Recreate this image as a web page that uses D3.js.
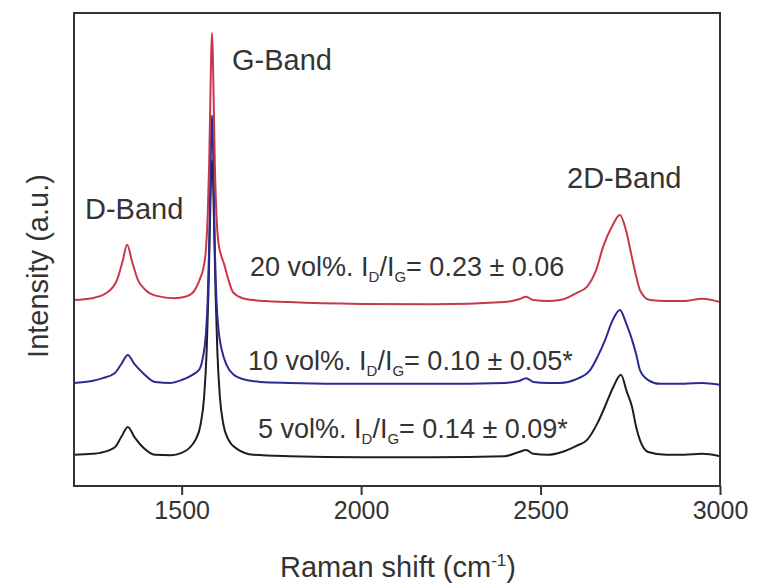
<!DOCTYPE html>
<html>
<head>
<meta charset="utf-8">
<script src="https://cdn.jsdelivr.net/npm/d3@7"></script>
<style>
  body { margin: 0; background: #fff; }
  text { font-family: "Liberation Sans", Arial, sans-serif; fill: #333; }
</style>
</head>
<body>
<svg id="chart"></svg>
<script>
// Raman spectra: [shift (cm-1), intensity (a.u.)]
const spec5 = [
  [1200, 6.6], [1250, 6.8], [1272, 7.0], [1314, 8.2], [1332, 10.4], [1350, 12.5],
  [1368, 10.4], [1392, 8.2], [1426, 6.6], [1470, 6.5], [1500, 7.0], [1539.5, 9.9],
  [1552.5, 12.9], [1562.5, 18.8], [1569.5, 28.3], [1574.5, 40.6], [1578.5, 54.5],
  [1581.5, 64.7], [1584.5, 68.9], [1587.5, 64.7], [1590.5, 54.5], [1594.5, 40.6],
  [1599.5, 28.3], [1606.5, 18.8], [1616.5, 12.9], [1629.5, 9.9], [1655, 7.8],
  [1700, 6.6], [1800, 6.3], [2000, 6.1], [2200, 6.1], [2400, 6.3], [2440, 7.2],
  [2460, 7.6], [2480, 6.8], [2520, 6.6], [2560, 7.2], [2600, 8.5], [2629, 9.7],
  [2660, 13.5], [2679, 16.7], [2703, 21.0], [2724, 23.5], [2740, 20.0], [2755, 16.7],
  [2766, 12.6], [2777, 9.7], [2800, 7.2], [2850, 6.6], [2900, 6.6], [2950, 6.8], [3000, 6.3]
];
const spec10 = [
  [1200, 21.8], [1250, 22.2], [1280, 22.8], [1314, 23.9], [1332, 25.8], [1350, 27.7],
  [1368, 25.8], [1392, 23.9], [1426, 22.0], [1470, 21.8], [1500, 22.4], [1530, 23.5],
  [1549.5, 24.7], [1559.5, 27.3], [1567.5, 32.1], [1572.5, 39.3], [1576.5, 50.2],
  [1579.5, 62.6], [1582, 73.4], [1584.5, 78.4], [1587, 73.4], [1589.5, 62.6],
  [1592.5, 50.2], [1597, 39.3], [1603, 32.8], [1612, 28.7], [1625, 25.6], [1645, 23.5],
  [1680, 22.4], [1720, 22.0], [1800, 21.8], [2000, 21.6], [2200, 21.6], [2400, 21.8],
  [2440, 22.2], [2460, 22.8], [2480, 22.0], [2520, 21.8], [2554, 21.8], [2600, 22.6],
  [2638, 24.5], [2660, 27.5], [2680, 30.9], [2700, 34.9], [2721, 37.2], [2738, 34.5],
  [2755, 30.9], [2767, 27.7], [2777, 24.5], [2800, 22.4], [2833, 21.6], [2900, 21.6],
  [2950, 21.8], [3000, 21.4]
];
const spec20 = [
  [1200, 39.3], [1250, 39.7], [1290, 40.8], [1320, 43.6], [1335, 47.4], [1348, 51.0],
  [1362, 47.4], [1378, 43.6], [1400, 41.4], [1430, 40.2], [1480, 39.7], [1510, 40.0],
  [1530, 40.8], [1550, 43.6], [1560, 45.9], [1567.5, 49.9], [1572.5, 57.1],
  [1576.5, 67.9], [1579.5, 80.1], [1582, 90.6], [1584.5, 95.8], [1587, 90.6],
  [1589.5, 80.1], [1592.5, 67.9], [1597, 57.1], [1602, 51.7], [1610, 48.8],
  [1618, 47.0], [1628, 44.2], [1643, 41.0], [1670, 39.7], [1700, 39.3], [1800, 38.9],
  [2000, 38.5], [2200, 38.4], [2400, 38.9], [2440, 39.5], [2460, 40.0], [2480, 39.3],
  [2520, 39.1], [2554, 39.3], [2600, 40.8], [2629, 42.1], [2655, 45.7], [2674, 50.5],
  [2700, 55.0], [2721, 57.3], [2738, 54.1], [2755, 48.2], [2767, 44.2], [2777, 41.4],
  [2805, 39.3], [2850, 39.1], [2900, 39.1], [2950, 39.6], [3000, 38.9]
];

const xTicks = [1500, 2000, 2500, 3000];
const bandLabels = ["D-Band", "G-Band", "2D-Band"];
const ratioLabels = [
  { vol: "20 vol%. ", val: "= 0.23 ± 0.06" },
  { vol: "10 vol%. ", val: "= 0.10 ± 0.05*" },
  { vol: "5 vol%. ", val: "= 0.14 ± 0.09*" }
];

const W = 757, H = 588;
const m = { left: 74, right: 37, top: 13, bottom: 102 };
const iw = W - m.left - m.right;
const ih = H - m.top - m.bottom;

const svg = d3.select("#chart").attr("width", W).attr("height", H);
const g = svg.append("g").attr("transform", `translate(${m.left},${m.top})`);

const x = d3.scaleLinear().domain([1200, 3000]).range([0, iw]);
const y = d3.scaleLinear().domain([0, 100]).range([ih, 0]);

const line = d3.line()
  .x(d => x(d[0]))
  .y(d => y(d[1]))
  .curve(d3.curveMonotoneX);

const series = [
  { data: spec5, color: "#1e1e1e" },
  { data: spec10, color: "#2b2b94" },
  { data: spec20, color: "#c8384a" }
];

series.forEach(s => {
  g.append("path")
    .datum(s.data)
    .attr("fill", "none")
    .attr("stroke", s.color)
    .attr("stroke-width", 2)
    .attr("stroke-linejoin", "round")
    .attr("d", line);
});

// frame
g.append("rect")
  .attr("width", iw)
  .attr("height", ih)
  .attr("fill", "none")
  .attr("stroke", "#333")
  .attr("stroke-width", 2);

const xAxis = g.append("g")
  .attr("transform", `translate(0,${ih})`)
  .call(d3.axisBottom(x).tickValues(xTicks).tickFormat(d3.format("d")).tickSize(9).tickPadding(6));
xAxis.select(".domain").remove();
xAxis.selectAll("line").attr("stroke", "#333").attr("stroke-width", 2);
xAxis.selectAll("text")
  .style("font-size", "25px")
  .style("font-family", "'Liberation Sans', Arial, sans-serif")
  .attr("fill", "#333");

// axis titles
const xt = svg.append("text")
  .attr("x", 398)
  .attr("y", 577)
  .attr("text-anchor", "middle")
  .style("font-size", "29px");
xt.append("tspan").text("Raman shift (cm");
xt.append("tspan").attr("dy", -11).style("font-size", "17px").text("-1");
xt.append("tspan").attr("dy", 11).text(")");

svg.append("text")
  .attr("transform", "translate(48,266) rotate(-90)")
  .attr("text-anchor", "middle")
  .style("font-size", "29px")
  .text("Intensity (a.u.)");

// band labels
const bandPos = [[85, 219], [232, 70], [567, 188]];
bandLabels.forEach((t, i) => {
  svg.append("text")
    .attr("x", bandPos[i][0])
    .attr("y", bandPos[i][1])
    .style("font-size", "29px")
    .text(t);
});

// I_D/I_G annotations
const ratioPos = [[250, 276], [248, 370], [258, 438]];
ratioLabels.forEach((r, i) => {
  const t = svg.append("text")
    .attr("x", ratioPos[i][0])
    .attr("y", ratioPos[i][1])
    .style("font-size", "27px");
  t.append("tspan").text(r.vol + "I");
  t.append("tspan").attr("dy", 6).style("font-size", "15px").text("D");
  t.append("tspan").attr("dy", -6).text("/I");
  t.append("tspan").attr("dy", 6).style("font-size", "15px").text("G");
  t.append("tspan").attr("dy", -6).text(r.val);
});
</script>
</body>
</html>
